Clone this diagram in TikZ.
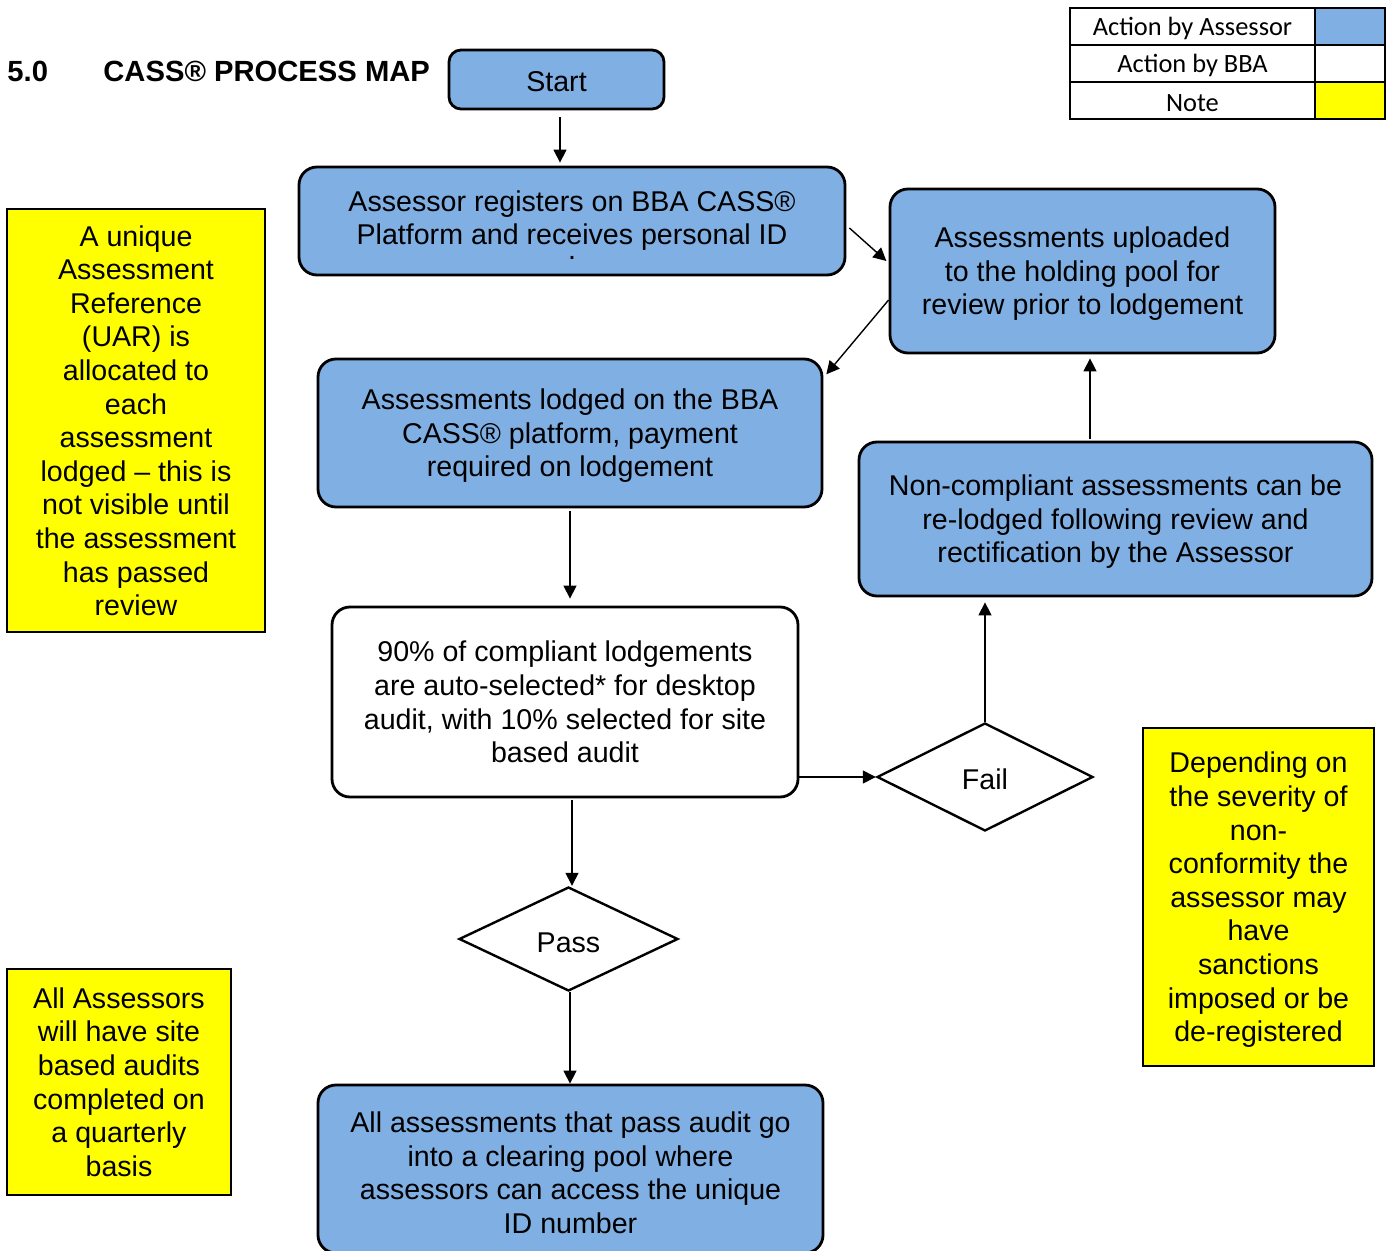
\documentclass[tikz,border=0pt]{standalone}
\usepackage{fontspec}
\setmainfont{Liberation Sans}
\newfontfamily\legendfont{Carlito}
\usetikzlibrary{shapes.geometric,arrows.meta}
\definecolor{assessor}{RGB}{127,175,227}
\definecolor{notecol}{RGB}{255,255,0}
\begin{document}
\begin{tikzpicture}[x=0.5pt, y=-0.5pt,
    txt/.style={font=\fontsize{14.3}{16.8}\selectfont, align=center, inner sep=0pt},
    drop/.style={execute at begin node={\rule{0pt}{#1}}},
    act/.style={txt, draw, line width=1.4pt, rounded corners=9pt, fill=assessor},
    bba/.style={act, fill=white},
    note/.style={txt, draw, line width=1.2pt, fill=notecol},
    dec/.style={txt, diamond, draw, line width=1.2pt, aspect=2, fill=white},
    ttl/.style={font=\fontsize{14.6}{17}\selectfont\bfseries, inner sep=0pt, anchor=base west},
    leg/.style={draw, line width=1pt, inner sep=0pt, minimum height=18.5pt, font=\legendfont\fontsize{13.2}{15}\selectfont},
    arr/.style={-{Triangle[length=6.5pt,width=6.5pt]}, line width=0.7pt, shorten >=1.5pt}]
    \useasboundingbox (0,0) rectangle (1392,1251);
    \node[ttl] (num) at (7,82) {5.0};
    \node[ttl] (title) at (103,82) {CASS® PROCESS MAP};
    \node[leg, minimum width=122.5pt, drop=11pt] (l1) at (1192.5,26.5) {Action by Assessor};
    \node[leg, minimum width=122.5pt, drop=11pt] (l2) at (1192.5,63.5) {Action by BBA};
    \node[leg, minimum width=122.5pt, drop=11pt] (l3) at (1192.5,100.5) {Note};
    \node[leg, minimum width=35pt, fill=assessor] (s1) at (1350,26.5) {};
    \node[leg, minimum width=35pt, fill=white] (s2) at (1350,63.5) {};
    \node[leg, minimum width=35pt, fill=notecol] (s3) at (1350,100.5) {};
    \node[act, minimum width=107.5pt, minimum height=29.5pt, rounded corners=6pt, drop=12.3pt] (start) at (556.5,79.5) {Start};
    \node[act, minimum width=273pt, minimum height=54pt, text height=38.5pt] (reg) at (572,221) {Assessor registers on BBA CASS®\\Platform and receives personal ID\\[-9.5pt].};
    \node[act, minimum width=192.5pt, minimum height=82pt, text depth=-1pt] (upl) at (1082.5,271) {Assessments uploaded\\to the holding pool for\\review prior to lodgement};
    \node[act, minimum width=252pt, minimum height=74pt, text depth=-1pt] (lodg) at (570,433) {Assessments lodged on the BBA\\CASS® platform, payment\\required on lodgement};
    \node[bba, minimum width=233pt, minimum height=95pt] (aud) at (565,702) {90\% of compliant lodgements\\are auto-selected* for desktop\\audit, with 10\% selected for site\\based audit};
    \node[dec, minimum width=108pt, minimum height=54pt, drop=12.3pt] (fail) at (985,777) {Fail};
    \node[act, minimum width=256.5pt, minimum height=77pt, text depth=-1pt] (nonc) at (1115.5,519) {Non-compliant assessments can be\\re-lodged following review and\\rectification by the Assessor};
    \node[dec, minimum width=109.5pt, minimum height=52pt, drop=13.3pt] (pass) at (568.5,939) {Pass};
    \node[act, minimum width=252.5pt, minimum height=84pt, text height=64.7pt] (clear) at (570.5,1169) {All assessments that pass audit go\\into a clearing pool where\\assessors can access the unique\\ID number};
    \node[note, minimum width=129pt, minimum height=211.5pt, text depth=-2pt] (uar) at (136,420.5) {A unique\\Assessment\\Reference\\(UAR) is\\allocated to\\each\\assessment\\lodged – this is\\not visible until\\the assessment\\has passed\\review};
    \node[note, minimum width=112pt, minimum height=113pt] (site) at (119,1082) {All Assessors\\will have site\\based audits\\completed on\\a quarterly\\basis};
    \node[note, minimum width=115.5pt, minimum height=169pt, text depth=0pt] (sanc) at (1258.5,897) {Depending on\\the severity of\\non-\\conformity the\\assessor may\\have\\sanctions\\imposed or be\\de-registered};
    \draw[arr, shorten <=3.5pt] ([xshift=1.75pt]start.south) -- ([xshift=1.75pt]start.south |- reg.north);
    \draw[arr] ([shift={(1.5pt,-3.5pt)}]reg.east) -- ([yshift=4pt]upl.west);
    \draw[arr] ([yshift=-14.5pt]upl.west) -- ([shift={(0.5pt,-9.5pt)}]lodg.north east);
    \draw[arr, shorten <=1.5pt, shorten >=3.5pt] (lodg.south) -- (lodg.south |- aud.north);
    \draw[arr, shorten >=0pt] (aud.east |- fail.west) -- (fail.west);
    \draw[arr, shorten >=2.5pt] (fail.north) -- (fail.north |- nonc.south);
    \draw[arr, shorten <=1pt, shorten >=2pt] ([xshift=3.75pt]upl.south |- nonc.north) -- ([xshift=3.75pt]upl.south);
    \draw[arr, shorten <=1pt, shorten >=0pt] ([xshift=3.5pt]aud.south) -- ([xshift=3.5pt]aud.south |- pass.north);
    \draw[arr, shorten >=0pt] ([xshift=0.75pt]pass.south) -- ([xshift=0.75pt]pass.south |- clear.north);
\end{tikzpicture}
\end{document}
